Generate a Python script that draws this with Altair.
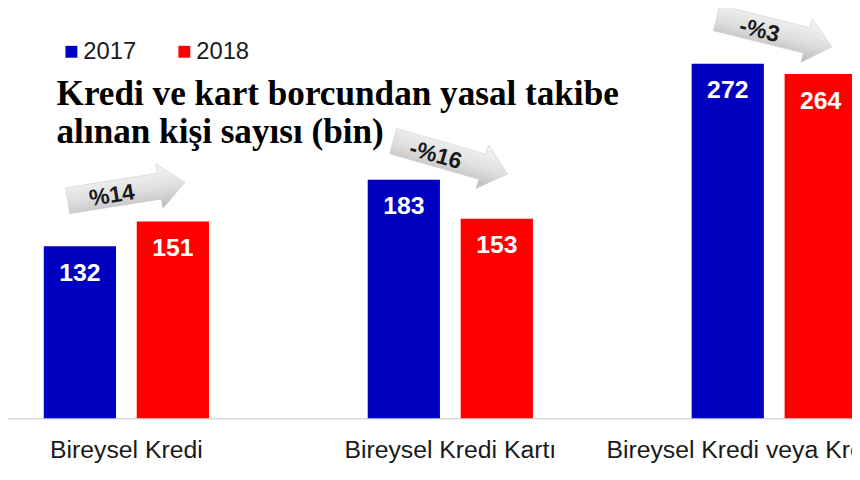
import altair as alt
import pandas as pd

# ---- data ----
categories = ["Bireysel Kredi", "Bireysel Kredi Kartı", "Bireysel Kredi veya Kredi Kartı"]
years = ["2017", "2018"]
values_2017 = [132, 183, 272]
values_2018 = [151, 153, 264]
change_labels = ["%14", "-%16", "-%3"]
arrow_level = [174, 200, 296]      # arrow centre height (data units)
arrow_angle = [351, 16, 14]        # arrow tilt (degrees, clockwise)
title_lines = ["Kredi ve kart borcundan yasal takibe", "alınan kişi sayısı (bin)"]
colors = ["#0000c0", "#ff0000"]

bars_df = pd.DataFrame({
    "category": categories * 2,
    "year": [years[0]] * 3 + [years[1]] * 3,
    "value": values_2017 + values_2018,
})
arrows_df = pd.DataFrame({
    "category": categories,
    "label": change_labels,
    "level": arrow_level,
    "angle": arrow_angle,
})

x_scale = alt.Scale(domain=categories, range=[-44, 937], paddingInner=0.49, paddingOuter=0.245)
y_scale = alt.Scale(domain=[0, 313], nice=False, zero=True)

bars = alt.Chart(bars_df).mark_bar(clip=False).encode(
    x=alt.X("category:N", scale=x_scale, sort=categories, title=None),
    xOffset=alt.XOffset("year:N", scale=alt.Scale(paddingInner=0.223, paddingOuter=0)),
    y=alt.Y("value:Q", scale=y_scale, axis=None),
    color=alt.Color(
        "year:N",
        scale=alt.Scale(domain=years, range=colors),
        legend=alt.Legend(
            title=None, orient="none", direction="horizontal",
            legendX=52, legendY=30, symbolType="square", symbolSize=144,
            symbolStrokeWidth=0, labelFontSize=24, labelFont="Liberation Sans",
            labelColor="#1a1a1a", labelOffset=0, columnPadding=36, padding=0,
        ),
    ),
)

value_text = alt.Chart(bars_df).mark_text(
    font="Liberation Sans", fontSize=25, fontWeight="bold", color="white",
    baseline="middle", dy=27,
).encode(
    x=alt.X("category:N", sort=categories, title=None),
    xOffset=alt.XOffset("year:N"),
    y=alt.Y("value:Q", axis=None),
    text=alt.Text("value:Q"),
)

ARROW = "M -1 -0.22 L 0.56 -0.22 L 0.56 -0.38 L 1 0 L 0.56 0.38 L 0.56 0.22 L -1 0.22 Z"
arrow_fill = alt.LinearGradient(
    gradient="linear",
    stops=[alt.GradientStop(color="#f6f6f6", offset=0),
           alt.GradientStop(color="#dedede", offset=0.55),
           alt.GradientStop(color="#b9b9b9", offset=1)],
    x1=0, x2=0, y1=0, y2=1,
)

arrows = alt.Chart(arrows_df).mark_point(
    shape=ARROW, size=14400, filled=True, fill=arrow_fill, opacity=1,
    stroke="#d0d0d0", strokeWidth=0.6,
).encode(
    x=alt.X("category:N", sort=categories, title=None),
    y=alt.Y("level:Q", axis=None),
    angle=alt.Angle("angle:Q", scale=None),
)

arrow_text = alt.Chart(arrows_df).mark_text(
    font="Liberation Sans", fontSize=23, fontWeight="bold", color="#1a1a1a",
    baseline="middle", align="center", dx=-15, dy=2,
).encode(
    x=alt.X("category:N", sort=categories, title=None),
    y=alt.Y("level:Q", axis=None),
    angle=alt.Angle("angle:Q", scale=None),
    text="label:N",
)

title = alt.Chart(pd.DataFrame({"a": [0]})).mark_text(
    text=title_lines, font="Liberation Serif", fontSize=35.5, fontWeight="bold",
    color="black", align="left", baseline="alphabetic", lineHeight=38,
).encode(x=alt.value(49), y=alt.value(96))

chart = alt.layer(bars, value_text, arrows, arrow_text, title).properties(
    width=852, height=412,
    autosize=alt.AutoSizeParams(type="none"),
    padding={"left": 0, "top": 0, "right": 0, "bottom": 52},
    background="white",
).configure_view(stroke=None).configure_axisX(
    labelAngle=0, ticks=False, tickSize=0, domainColor="#d9d9d9", domainWidth=1.5,
    labelFontSize=25, labelFont="Liberation Sans", labelColor="#1a1a1a",
    labelPadding=20, labelLimit=1000, grid=False, labelOverlap=False,
)

chart.save("out.html", embed_options={"renderer": "svg", "actions": False})
